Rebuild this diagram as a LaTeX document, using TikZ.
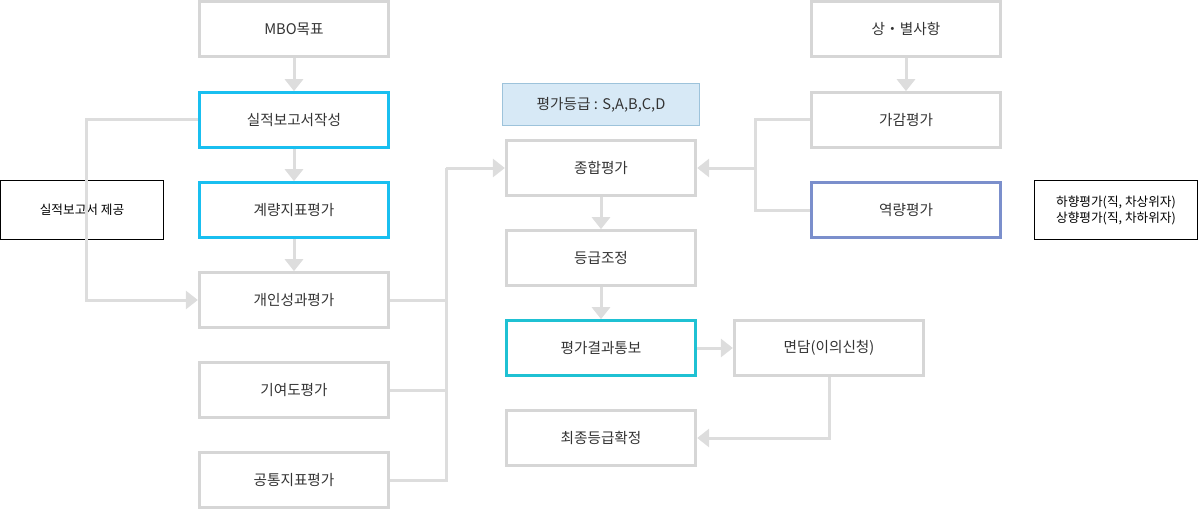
\documentclass[tikz,border=0pt]{standalone}
\usepackage{fontspec}
\setmainfont{Noto Sans CJK KR}
\usetikzlibrary{arrows.meta}
\definecolor{gline}{HTML}{DDDDDD}
\definecolor{gbox}{HTML}{D6D6D6}
\definecolor{bluebox}{HTML}{19BFF0}
\definecolor{tealbox}{HTML}{1FC1D3}
\definecolor{purpbox}{HTML}{7B8FCC}
\definecolor{lbfill}{HTML}{D7E9F6}
\definecolor{lbdraw}{HTML}{9DC3DB}
\definecolor{txt}{HTML}{333333}
\tikzset{
  x=0.75pt,y=-0.75pt,
  bx/.style={draw=gbox,line width=2.25pt,minimum width=142pt,minimum height=41pt,inner sep=0pt,font=\fontsize{11}{13}\selectfont,text=txt},
  bb/.style={bx,draw=bluebox},
  note/.style={draw=black,line width=0.75pt,inner sep=0pt,font=\fontsize{9.5}{12}\selectfont,text=black,align=center},
  con/.style={draw=gline,line width=2.25pt},
  arr/.style={con,-{Triangle[width=13.5pt,length=9pt]}},
}
\begin{document}
\begin{tikzpicture}
\useasboundingbox (0,0) rectangle (1200,510);
\node[bx] (mbo) at (294,29) {MBO목표};
\node[bb] (sil) at (294,120) {실적보고서작성};
\node[bb] (gye) at (294,210) {계량지표평가};
\node[bx] (gae) at (294,300) {개인성과평가};
\node[bx] (gi) at (294,390) {기여도평가};
\node[bx] (gong) at (294,480) {공통지표평가};
\node[note,minimum width=122pt,minimum height=44pt] (prov) at (82,210) {실적보고서 제공};
\node[draw=lbdraw,fill=lbfill,line width=0.75pt,minimum width=148pt,minimum height=31pt,inner sep=0pt,font=\fontsize{11}{13}\selectfont,text=txt] (grade) at (601,104.5) {평가등급 : S,A,B,C,D};
\node[bx] (jong) at (601,168) {종합평가};
\node[bx] (deung) at (601,258) {등급조정};
\node[bx,draw=tealbox] (tong) at (601,348) {평가결과통보};
\node[bx] (myeon) at (829,348) {면담(이의신청)};
\node[bx] (choe) at (601,438) {최종등급확정};
\node[bx] (sang) at (906,29) {상・별사항};
\node[bx] (gagam) at (906,120) {가감평가};
\node[bx,draw=purpbox] (yeok) at (906,210) {역량평가};
\node[note,minimum width=122pt,minimum height=44pt] (nt) at (1116,210) {하향평가(직, 차상위자)\\상향평가(직, 차하위자)};
% vertical arrows
\draw[arr] (mbo.south) -- (sil.north);
\draw[arr] (sil.south) -- (gye.north);
\draw[arr] (gye.south) -- (gae.north);
\draw[arr] (jong.south) -- (deung.north);
\draw[arr] (deung.south) -- (tong.north);
\draw[arr] (sang.south) -- (gagam.north);
% left loop
\draw[arr] (sil.west) -- (86,120) -- (86,300) -- (gae.west);
% merge
\coordinate (mv) at (446,168);
\draw[con] (gae.east) -- (446,300);
\draw[con] (gi.east) -- (446,390);
\draw[con] (gong.east) -- (446,480) -- (446,168);
\draw[arr] (mv) -- (jong.west);
% right merge
\coordinate (rv) at (755,168);
\draw[con] (gagam.west) -- (755,120) -- (755,210) -- (yeok.west);
\draw[arr] (rv) -- (jong.east);
% bottom
\draw[arr] (tong.east) -- (myeon.west);
\draw[arr] (myeon.south) -- (myeon.south |- choe.east) -- (choe.east);
\end{tikzpicture}
\end{document}
